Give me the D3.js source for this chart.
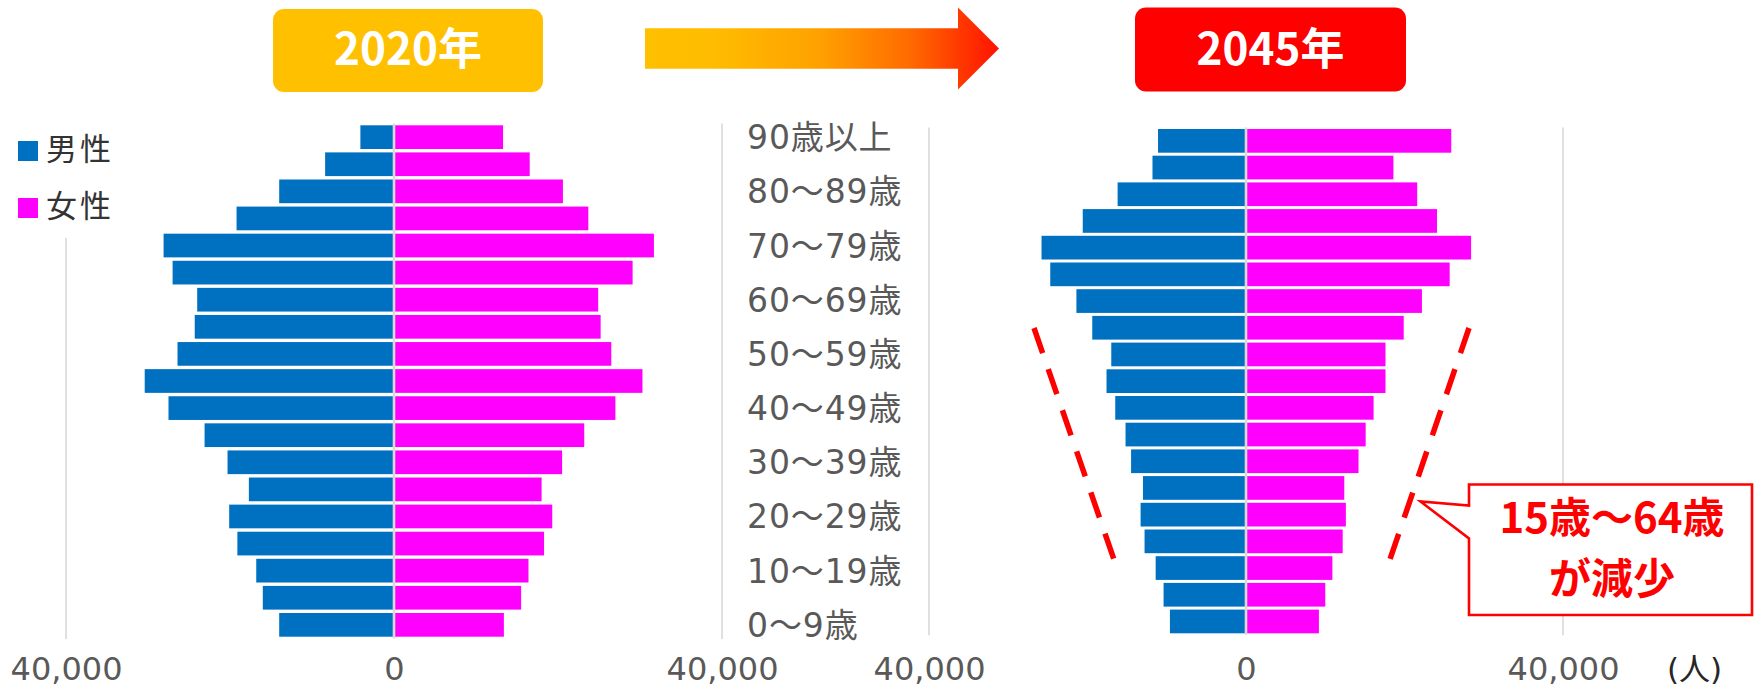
<!DOCTYPE html>
<html><head><meta charset="utf-8">
<script src="https://cdn.jsdelivr.net/npm/d3@7"></script>
<style>
html,body{margin:0;padding:0;background:#fff;}
svg{display:block;}
</style></head>
<body>
<svg id="chart" width="1755" height="688"></svg>
<script>
// ---- data (bottom to top: youngest to oldest) ----
const ageGroups = ["0～4","5～9","10～14","15～19","20～24","25～29","30～34","35～39","40～44","45～49",
                   "50～54","55～59","60～64","65～69","70～74","75～79","80～84","85～89","90以上"];
const male2020   = [14000,16000,16800,19100,20100,17700,20300,23100,27500,30400,26400,24300,24000,27000,28100,19200,14000,8400,4100];
const female2020 = [13400,15500,16400,18300,19300,18000,20500,23200,27000,30300,26500,25200,24900,29100,31700,23700,20600,16550,13300];
const male2045   = [9600,10400,11400,12800,13300,13000,14500,15200,16500,17600,17000,19400,21400,24700,25800,20600,16200,11800,11100];
const female2045 = [9200,10000,10900,12200,12600,12400,14200,15100,16100,17600,17600,19900,22200,25700,28400,24100,21600,18600,25900];
const ageLabels  = ["0～9歳","10～19歳","20～29歳","30～39歳","40～49歳","50～59歳","60～69歳","70～79歳","80～89歳","90歳以上"];
const ageLabelAt = ["0～4","10～14","20～24","30～34","40～44","50～54","60～64","70～74","80～84","90以上"];
const tickValues = [-40000, 0, 40000];
const years = ["2020年","2045年"];
const legendNames = ["男性","女性"];
const unitLabel = "(人)";
const calloutLines = ["15歳～64歳","が減少"];

const COL_M = "#0070C0", COL_F = "#FF00FF", GRID = "#D9D9D9", AXT = "#595959";
const svg = d3.select("#chart");
const defs = svg.append("defs");

// ---- scales ----
const xL = d3.scaleLinear().domain([-40000, 40000]).range([66, 722]);
const yL = d3.scaleBand().domain(ageGroups).range([638.4, 123.6]).paddingInner(0.125).paddingOuter(0.0625);
const xR = d3.scaleLinear().domain([-40000, 40000]).range([929, 1563]);
const yR = d3.scaleBand().domain(ageGroups).range([634.8, 127.5]).paddingInner(0.112).paddingOuter(0.056);

const panels = [
  {male: male2020, female: female2020, x: xL, y: yL},
  {male: male2045, female: female2045, x: xR, y: yR}
];
const fmt = d3.format(",");

panels.forEach(p => {
  const g = svg.append("g");
  const [y1, y0] = p.y.range();
  // gridlines
  g.selectAll("line.grid").data([-40000, 40000]).join("line")
    .attr("x1", d => p.x(d)).attr("x2", d => p.x(d))
    .attr("y1", y0).attr("y2", y1 + 0.5)
    .attr("stroke", GRID).attr("stroke-width", 1.6);
  // bars
  g.selectAll("rect.m").data(ageGroups).join("rect")
    .attr("x", (d, i) => p.x(-p.male[i]))
    .attr("width", (d, i) => p.x(0) - p.x(-p.male[i]))
    .attr("y", d => p.y(d)).attr("height", p.y.bandwidth())
    .attr("fill", COL_M);
  g.selectAll("rect.f").data(ageGroups).join("rect")
    .attr("x", p.x(0))
    .attr("width", (d, i) => p.x(p.female[i]) - p.x(0))
    .attr("y", d => p.y(d)).attr("height", p.y.bandwidth())
    .attr("fill", COL_F);
  // zero axis line
  g.append("line")
    .attr("x1", p.x(0)).attr("x2", p.x(0))
    .attr("y1", y0).attr("y2", y1)
    .attr("stroke", GRID).attr("stroke-width", 2.6);
  // value axis
  const ax = svg.append("g").attr("transform", "translate(0,638)")
    .call(d3.axisBottom(p.x).tickValues(tickValues).tickSize(0).tickPadding(19)
      .tickFormat(d => fmt(Math.abs(d))));
  ax.select(".domain").remove();
  ax.selectAll("text").attr("fill", AXT).style("font-family", "'DejaVu Sans','Noto Sans CJK JP',sans-serif")
    .style("font-size", "32px");
});

// ---- age labels ----
svg.append("g").selectAll("text").data(ageLabels).join("text")
  .attr("x", 747)
  .attr("y", (d, i) => yL(ageLabelAt[i]) + yL.bandwidth() / 2 + 12)
  .attr("fill", AXT)
  .style("font-family", "'DejaVu Sans','Noto Sans CJK JP',sans-serif")
  .style("font-size", "33px").style("letter-spacing", "0.9px")
  .text(d => d);

// ---- unit ----
svg.append("text").attr("x", 1667).attr("y", 679.5)
  .attr("fill", "#262626")
  .style("font-family", "'DejaVu Sans','Noto Sans CJK JP',sans-serif")
  .style("font-size", "31px").text(unitLabel);

// ---- legend ----
const lg = svg.append("g");
lg.append("rect").attr("x", 0).attr("y", 112).attr("width", 125).attr("height", 126).attr("fill", "#fff");
const legendCols = [COL_M, COL_F];
legendNames.forEach((n, i) => {
  const cy = 151 + i * 57;
  lg.append("rect").attr("x", 18).attr("y", cy - 10).attr("width", 20).attr("height", 20).attr("fill", legendCols[i]);
  lg.append("text").attr("x", 46).attr("y", cy + 9)
    .attr("fill", "#333")
    .style("font-family", "'Noto Sans CJK JP',sans-serif")
    .style("font-size", "31px").style("letter-spacing", "3px").text(n);
});

// ---- year boxes ----
const yearBoxes = [
  {x: 273, y: 9, w: 270, h: 83, fill: "#FFC000"},
  {x: 1135, y: 7.5, w: 271, h: 84, fill: "#FF0000"}
];
yearBoxes.forEach((b, i) => {
  svg.append("rect").attr("x", b.x).attr("y", b.y).attr("width", b.w).attr("height", b.h)
    .attr("rx", 11).attr("fill", b.fill);
  svg.append("text").attr("x", b.x + b.w / 2).attr("y", 65).attr("text-anchor", "middle")
    .attr("fill", "#fff").style("font-family", "'Noto Sans CJK JP',sans-serif")
    .style("font-weight", 700).style("font-size", "44px").text(years[i]);
});

// ---- arrow ----
const grad = defs.append("linearGradient").attr("id", "arrowGrad")
  .attr("x1", "0%").attr("x2", "100%").attr("y1", "0%").attr("y2", "0%");
[[0, "#FFC000"], [0.2, "#FFBC00"], [0.5, "#FFA000"], [0.75, "#FF6A00"], [1, "#FF1200"]]
  .forEach(s => grad.append("stop").attr("offset", s[0]).attr("stop-color", s[1]));
svg.append("path")
  .attr("d", "M645,28.3 L958,28.3 L958,7.5 L999,48.5 L958,89.5 L958,68.8 L645,68.8 Z")
  .attr("fill", "url(#arrowGrad)");

// ---- dashed guide lines ----
const dashes = [
  [[-26750, 328], [-16550, 562]],
  [[28140, 328], [18050, 562]]
];
dashes.forEach(l => {
  svg.append("line")
    .attr("x1", xR(l[0][0])).attr("y1", l[0][1])
    .attr("x2", xR(l[1][0])).attr("y2", l[1][1])
    .attr("stroke", "#FF0000").attr("stroke-width", 5.5)
    .attr("stroke-dasharray", "26.5,17");
});

// ---- callout ----
svg.append("path")
  .attr("d", "M1469,484.5 L1752,484.5 L1752,615 L1469,615 L1469,538.5 L1420.5,501.5 L1469,505.5 Z")
  .attr("fill", "#fff").attr("stroke", "#FF0000").attr("stroke-width", 2.6);
const ct = svg.append("text").attr("text-anchor", "middle")
  .attr("fill", "#FF0000").style("font-family", "'Noto Sans CJK JP',sans-serif")
  .style("font-weight", 700).style("font-size", "42px");
calloutLines.forEach((t, i) => {
  ct.append("tspan").attr("x", 1612).attr("y", 533 + i * 61).text(t);
});
</script>
</body></html>
